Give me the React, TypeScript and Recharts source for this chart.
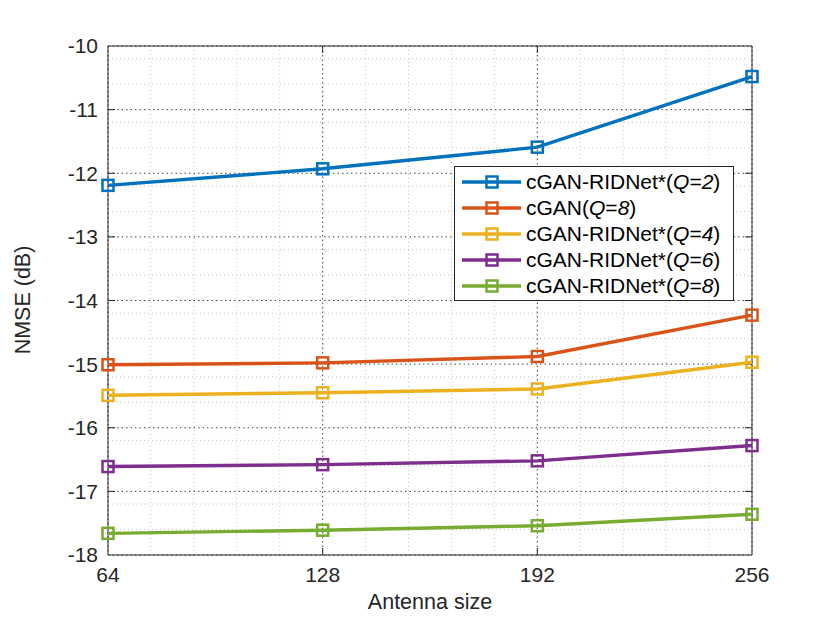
import React from 'react'
import {
  LineChart,
  Line,
  XAxis,
  YAxis,
  CartesianGrid,
  ReferenceArea,
  ReferenceLine
} from 'recharts'

// antenna sizes on the x axis
const antennaSizes = [64, 128, 192, 256]

// NMSE (dB) per series
const ridnetQ2 = [-12.19, -11.93, -11.59, -10.48]
const cganQ8 = [-15.01, -14.98, -14.88, -14.23]
const ridnetQ4 = [-15.49, -15.45, -15.39, -14.97]
const ridnetQ6 = [-16.61, -16.58, -16.52, -16.28]
const ridnetQ8 = [-17.66, -17.61, -17.54, -17.36]

const xTicks = [64, 128, 192, 256]
const yTicks = [-18, -17, -16, -15, -14, -13, -12, -11, -10]

// minor grid: 5 subdivisions between major ticks
const xMinor: number[] = []
for (let i = 0; i < xTicks.length - 1; i++) {
  for (let k = 1; k < 5; k++) xMinor.push(xTicks[i] + (k * (xTicks[i + 1] - xTicks[i])) / 5)
}
const yMinor: number[] = []
for (let i = 0; i < yTicks.length - 1; i++) {
  for (let k = 1; k < 5; k++) yMinor.push(+(yTicks[i] + k * 0.2).toFixed(2))
}

const series = [
  { key: 'q2', name: 'cGAN-RIDNet*', q: '2', color: '#0072BD', values: ridnetQ2 },
  { key: 'c8', name: 'cGAN', q: '8', color: '#D95319', values: cganQ8 },
  { key: 'q4', name: 'cGAN-RIDNet*', q: '4', color: '#EDB120', values: ridnetQ4 },
  { key: 'q6', name: 'cGAN-RIDNet*', q: '6', color: '#7E2F8E', values: ridnetQ6 },
  { key: 'q8', name: 'cGAN-RIDNet*', q: '8', color: '#77AC30', values: ridnetQ8 }
]

const data = antennaSizes.map((n, i) => {
  const row: any = { n }
  series.forEach(s => { row[s.key] = s.values[i] })
  return row
})

const FONT = '"Liberation Sans", Arial, Helvetica, sans-serif'
const AXIS = '#262626'

const SquareDot = (color: string) => (props: any) => {
  const { cx, cy } = props
  if (cx == null || cy == null) return null
  return (
    <rect x={cx - 5.5} y={cy - 5.5} width={11} height={11} fill="none" stroke={color} strokeWidth={2.5} />
  )
}

export default function App() {
  const tickStyle = { fontSize: 21, fill: AXIS, fontFamily: FONT }
  const xLen = 2.1
  const yLen = 0.11

  return (
    <div style={{ position: 'absolute', left: 0, top: 0, width: 830, height: 623, background: '#fff', fontFamily: FONT }}>
      <LineChart width={830} height={623} data={data} margin={{ top: 46, right: 78, bottom: 18, left: 48 }}>
        <CartesianGrid
          horizontalValues={yMinor}
          verticalValues={xMinor}
          stroke="#c4c4c4"
          strokeDasharray="1 3"
          strokeWidth={1}
        />
        <CartesianGrid
          horizontalValues={yTicks}
          verticalValues={xTicks}
          stroke="#444"
          strokeDasharray="1.5 3"
          strokeWidth={1}
        />
        <XAxis
          dataKey="n"
          type="number"
          domain={[64, 256]}
          ticks={xTicks}
          tickSize={0}
          tickMargin={12}
          axisLine={false}
          tick={tickStyle}
          height={50}
          label={{
            content: () => (
              <text x={430} y={602} textAnchor="middle" dominantBaseline="central" fontSize={21.5} fill={AXIS} fontFamily={FONT}>
                Antenna size
              </text>
            )
          }}
        />
        <YAxis
          type="number"
          domain={[-18, -10]}
          ticks={yTicks}
          tickSize={0}
          tickMargin={10}
          axisLine={false}
          tick={tickStyle}
          width={60}
          label={{
            content: () => (
              <text
                x={23}
                y={300}
                transform="rotate(-90, 23, 300)"
                textAnchor="middle"
                dominantBaseline="central"
                fontSize={21.5}
                fill={AXIS}
                fontFamily={FONT}
              >
                NMSE (dB)
              </text>
            )
          }}
        />
        {xTicks.slice(1, -1).map(v => (
          <ReferenceLine key={'xb' + v} segment={[{ x: v, y: -18 }, { x: v, y: -18 + yLen }]} stroke={AXIS} strokeWidth={1} />
        ))}
        {xTicks.slice(1, -1).map(v => (
          <ReferenceLine key={'xt' + v} segment={[{ x: v, y: -10 }, { x: v, y: -10 - yLen }]} stroke={AXIS} strokeWidth={1} />
        ))}
        {yTicks.slice(1, -1).map(v => (
          <ReferenceLine key={'yl' + v} segment={[{ x: 64, y: v }, { x: 64 + xLen, y: v }]} stroke={AXIS} strokeWidth={1} />
        ))}
        {yTicks.slice(1, -1).map(v => (
          <ReferenceLine key={'yr' + v} segment={[{ x: 256, y: v }, { x: 256 - xLen, y: v }]} stroke={AXIS} strokeWidth={1} />
        ))}
        <ReferenceArea x1={64} x2={256} y1={-18} y2={-10} fill="none" stroke={AXIS} strokeWidth={1} />
        {series.map(s => (
          <Line
            key={s.key}
            dataKey={s.key}
            stroke={s.color}
            strokeWidth={3.4}
            dot={SquareDot(s.color)}
            activeDot={false}
            isAnimationActive={false}
          />
        ))}
      </LineChart>

      {/* legend box */}
      <div
        style={{
          position: 'absolute',
          left: 454,
          top: 166,
          width: 280,
          height: 135,
          boxSizing: 'border-box',
          border: `1px solid ${AXIS}`,
          background: '#fff',
          paddingTop: 2
        }}
      >
        {series.map(s => (
          <div key={s.key} style={{ height: 26, display: 'flex', alignItems: 'center', whiteSpace: 'nowrap' }}>
            <svg width={71} height={26} style={{ flex: 'none' }}>
              <line x1={7} y1={13} x2={66} y2={13} stroke={s.color} strokeWidth={3.4} />
              <rect x={31.5} y={7.5} width={11} height={11} fill="none" stroke={s.color} strokeWidth={2.5} />
            </svg>
            <span style={{ fontSize: 21, color: '#000', lineHeight: '26px' }}>
              {s.name}(<i>Q</i>=<i>{s.q}</i>)
            </span>
          </div>
        ))}
      </div>
    </div>
  )
}
